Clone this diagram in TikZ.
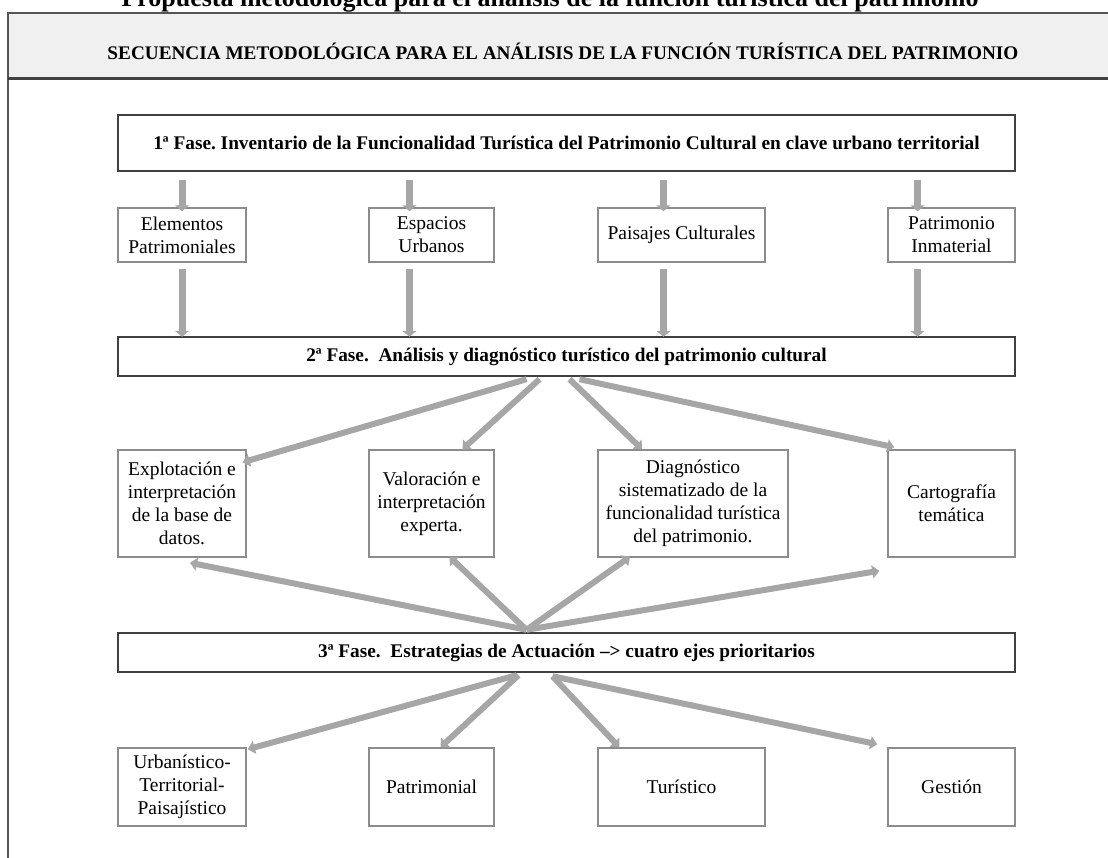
\documentclass[tikz,border=0pt]{standalone}
\usepackage{fontspec}
\setmainfont{Liberation Serif}
\usetikzlibrary{arrows.meta,calc}
\definecolor{arrgray}{HTML}{A6A6A6}
\definecolor{phasecol}{HTML}{404040}
\definecolor{boxcol}{HTML}{8C8C8C}
\definecolor{headfill}{HTML}{F0F0F0}
\definecolor{framecol}{HTML}{555555}
\begin{document}
\frenchspacing
\begin{tikzpicture}[x=1pt,y=-1pt,
  arr/.style={draw=arrgray, line width=6pt, -{Triangle[width=13pt,length=7pt]}},
  varr/.style={draw=arrgray, line width=7pt, -{Triangle[width=14pt,length=6pt]}},
  phase/.style={draw=phasecol, line width=2.4pt, inner sep=0pt, font=\fontsize{19.3}{23}\selectfont\bfseries},
  sbox/.style={draw=boxcol, line width=1.5pt, inner sep=0pt, align=center, font=\fontsize{19.5}{23}\selectfont},
]
\useasboundingbox (0,0) rectangle (1108,857);
\clip (0,0) rectangle (1108,857);

% title (cut at top) and header band
\node[anchor=base, inner sep=0pt] (ttl) at (550,6) {\resizebox{857pt}{!}{\bfseries Propuesta metodológica para el análisis de la función turística del patrimonio}};
\fill[headfill] (8,13) rectangle (1120,78);
\draw[framecol, line width=2pt] (1120,13) -- (8,13) -- (8,870);
\draw[phasecol, line width=3pt] (8,78) -- (1120,78);
\node[inner sep=0pt] (hdr) at (563,51) {\resizebox{911pt}{16.5pt}{\bfseries SECUENCIA METODOLÓGICA PARA EL ANÁLISIS DE LA FUNCIÓN TURÍSTICA DEL PATRIMONIO}};

% phase boxes
\node[phase, minimum width=897pt, minimum height=56pt] (p1) at (566.5,143) {1ª Fase. Inventario de la Funcionalidad Turística del Patrimonio Cultural en clave urbano territorial};
\node[phase, minimum width=897pt, minimum height=39pt] (p2) at (566.5,356.5) {2ª Fase.~~Análisis y diagnóstico turístico del patrimonio cultural};
\node[phase, minimum width=897pt, minimum height=39pt] (p3) at (566.5,652.5) {3ª Fase.~~Estrategias de Actuación –> cuatro ejes prioritarios};

% first row
\node[sbox, minimum width=128pt, minimum height=54pt] (elem) at (182,235) {Elementos\\Patrimoniales};
\node[sbox, minimum width=125pt, minimum height=54pt] (esp) at (431.5,235) {Espacios\\Urbanos};
\node[sbox, minimum width=167pt, minimum height=54pt] (pai) at (681.5,235) {Paisajes Culturales};
\node[sbox, minimum width=127pt, minimum height=54pt] (pin) at (951.5,235) {Patrimonio\\Inmaterial};

% second row
\node[sbox, minimum width=128pt, minimum height=107pt] (expl) at (182,503.5) {Explotación e\\interpretación\\de la base de\\datos.};
\node[sbox, minimum width=125pt, minimum height=107pt] (val) at (431.5,503.5) {Valoración e\\interpretación\\experta.};
\node[sbox, minimum width=190pt, minimum height=107pt] (diag) at (693,503.5) {Diagnóstico\\sistematizado de la\\funcionalidad turística\\del patrimonio.};
\node[sbox, minimum width=127pt, minimum height=107pt] (cart) at (951.5,503.5) {Cartografía\\temática};

% third row
\node[sbox, minimum width=128pt, minimum height=78pt] (urb) at (182,787) {Urbanístico-\\Territorial-\\Paisajístico};
\node[sbox, minimum width=125pt, minimum height=78pt] (pat) at (431.5,787) {Patrimonial};
\node[sbox, minimum width=167pt, minimum height=78pt] (tur) at (681.5,787) {Turístico};
\node[sbox, minimum width=127pt, minimum height=78pt] (ges) at (951.5,787) {Gestión};

% vertical arrows phase 1 -> row 1 -> phase 2
\draw[varr] ($(p1.south -| elem.north)+(0,8)$) -- ($(elem.north)+(0,4)$);
\draw[varr] ($(p1.south -| esp.north)+(-22,8)$) -- ($(esp.north)+(-22,4)$);
\draw[varr] ($(p1.south -| pai.north)+(-18,8)$) -- ($(pai.north)+(-18,4)$);
\draw[varr] ($(p1.south -| pin.north)+(-34,8)$) -- ($(pin.north)+(-34,4)$);
\draw[varr] ($(elem.south)+(0,6)$) -- ($(p2.north -| elem.south)+(0,1)$);
\draw[varr] ($(esp.south)+(-22,6)$) -- ($(p2.north -| esp.south)+(-22,1)$);
\draw[varr] ($(pai.south)+(-18,6)$) -- ($(p2.north -| pai.south)+(-18,1)$);
\draw[varr] ($(pin.south)+(-34,6)$) -- ($(p2.north -| pin.south)+(-34,1)$);

% phase 2 -> row 2
\draw[arr] ($(p2.south)+(-40,2)$) -- ($(expl.north east)+(-4,13)$);
\draw[arr] ($(p2.south)+(-27,2)$) -- ($(val.north)+(31,0)$);
\draw[arr] ($(p2.south)+(3,2)$) -- ($(diag.north)+(-51,0)$);
\draw[arr] ($(p2.south)+(13,2)$) -- ($(cart.north west)+(7,-2)$);

% phase 3 -> row 2
\draw[arr] ($(p3.north)+(-40,-2)$) -- ($(expl.south)+(8,5)$);
\draw[arr] ($(p3.north)+(-40,-2)$) -- ($(val.south)+(18,-1)$);
\draw[arr] ($(p3.north)+(-40,-2)$) -- ($(diag.south)+(-63,-1)$);
\draw[arr] ($(p3.north)+(-40,-2)$) -- ($(cart.south west)+(-8,13)$);

% phase 3 -> row 3
\draw[arr] ($(p3.south)+(-50,2)$) -- ($(urb.north east)+(1,2)$);
\draw[arr] ($(p3.south)+(-48,2)$) -- ($(pat.north)+(9,0)$);
\draw[arr] ($(p3.south)+(-14,3)$) -- ($(tur.north west)+(22,0)$);
\draw[arr] ($(p3.south)+(-14,3)$) -- ($(ges.north west)+(-10,-3)$);
\end{tikzpicture}
\end{document}
